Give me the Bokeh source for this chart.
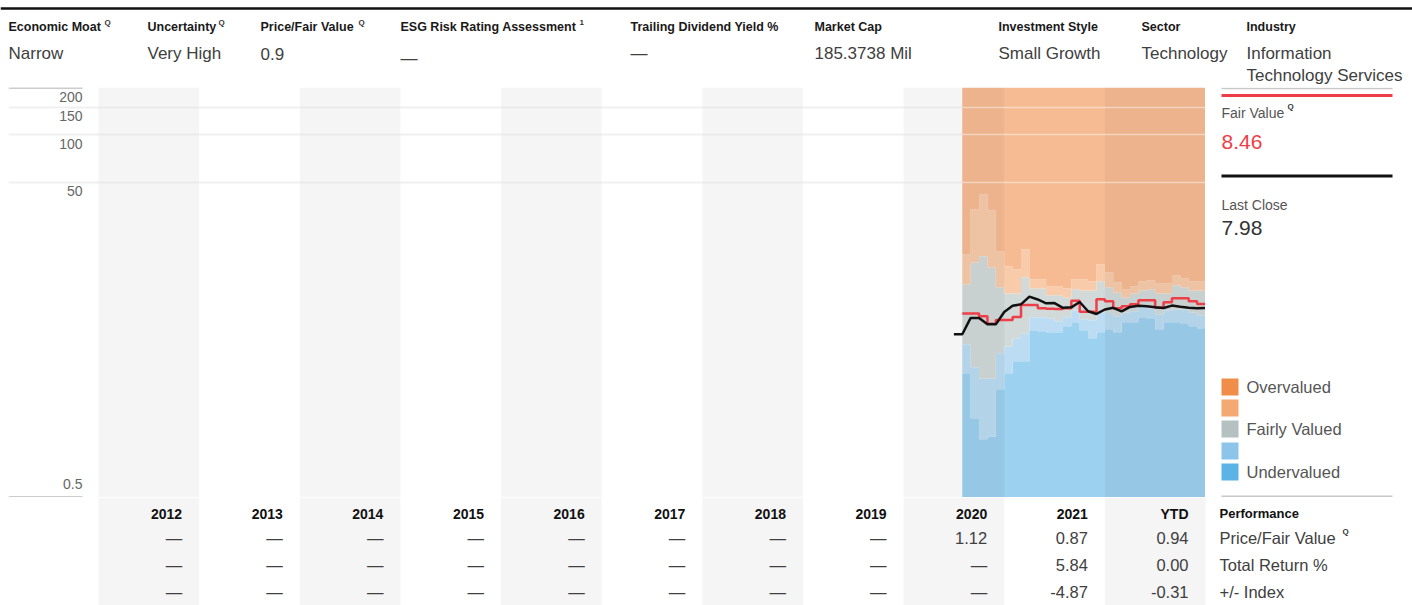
from bokeh.plotting import figure
from bokeh.layouts import column, row
from bokeh.models import Range1d, Grid, FixedTicker
from bokeh.core.properties import value
from bokeh.embed import file_html
from bokeh.resources import INLINE

FONT = value("Liberation Sans")

# ------------------------------------------------------------------ data
header_titles = ["Economic Moat", "Uncertainty", "Price/Fair Value",
                 "ESG Risk Rating Assessment", "Trailing Dividend Yield %",
                 "Market Cap", "Investment Style", "Sector", "Industry"]
header_values = ["Narrow", "Very High", "0.9", "\u2014", "\u2014", "185.3738 Mil",
                 "Small Growth", "Technology", "Information\nTechnology Services"]
header_marks = ["Q", "Q", "Q", "1", "", "", "", "", ""]

table_columns = ["2012", "2013", "2014", "2015", "2016", "2017", "2018",
                 "2019", "2020", "2021", "YTD"]
price_fair_value = [None, None, None, None, None, None, None, None, 1.12, 0.87, 0.94]
total_return = [None, None, None, None, None, None, None, None, None, 5.84, 0.00]
plus_minus_index = [None, None, None, None, None, None, None, None, None, -4.87, -0.31]
table_row_labels = ["Performance", "Price/Fair Value", "Total Return %", "+/- Index"]

y_ticks = [0.5, 50, 100, 150, 200]

val_months = ["2020-08", "2020-09", "2020-10", "2020-11", "2020-12",
              "2021-01", "2021-02", "2021-03", "2021-04", "2021-05", "2021-06",
              "2021-07", "2021-08", "2021-09", "2021-10", "2021-11", "2021-12",
              "2022-01", "2022-02", "2022-03", "2022-04", "2022-05", "2022-06",
              "2022-07", "2022-08", "2022-09", "2022-10", "2022-11", "2022-12"]
val_end = "2023-01"
undervalued_top = [3.07, 1.59, 1.17, 1.22, 2.43, 3.07, 3.66, 3.66, 5.76, 5.67,
                   5.59, 5.59, 6.10, 6.47, 5.76, 5.12, 5.59, 5.84, 5.59, 6.47,
                   6.47, 6.96, 6.86, 5.84, 6.47, 6.47, 6.37, 6.10, 5.93]
near_under_top = [4.69, 3.35, 2.85, 2.85, 4.11, 4.55, 5.12, 5.51, 6.96, 6.96,
                  6.86, 6.56, 6.96, 7.70, 6.76, 6.66, 7.50, 7.40, 7.06, 7.45,
                  7.60, 8.05, 7.93, 7.28, 7.70, 7.76, 7.76, 7.45, 7.16]
fair_top = [11.3, 15.5, 17.0, 14.4, 10.8, 9.87, 9.87, 12.5, 10.6, 10.6,
            9.6, 9.6, 9.3, 10.5, 10.3, 10.3, 11.8, 10.8, 10.0, 9.3,
            9.87, 10.3, 10.5, 9.87, 9.87, 11.1, 10.8, 10.3, 10.3]
near_over_top = [17.5, 33.7, 42.0, 33.2, 18.2, 14.7, 14.0, 18.8, 12.1, 12.1,
                 10.9, 10.9, 10.6, 12.1, 12.1, 11.8, 15.1, 13.4, 11.6, 10.5,
                 10.9, 11.8, 11.9, 11.4, 11.4, 12.85, 12.3, 11.8, 11.8]
fair_value = [7.36, 7.36, 7.06, 6.34, 6.70, 6.70, 7.00, 8.33, 8.33, 7.95,
              7.90, 7.85, 7.95, 8.88, 7.55, 7.55, 9.05, 8.79, 7.93, 8.17,
              8.41, 8.92, 8.92, 7.99, 8.66, 9.18, 9.18, 8.79, 8.46]
price_months = ["2020-07"] + val_months + ["2023-01"]
price = [5.43, 5.43, 6.90, 6.90, 6.28, 6.28, 7.52, 8.23, 8.41, 9.42,
         9.03, 8.54, 8.57, 7.99, 8.05, 8.70, 7.60, 7.31, 7.80, 8.00,
         7.58, 8.10, 8.23, 8.17, 8.05, 7.98, 8.26, 8.12, 8.00, 7.93, 7.98]

fair_value_now = 8.46
last_close = 7.98

legend_labels = ["Overvalued", "", "Fairly Valued", "", "Undervalued"]
legend_colors = ["#F08D49", "#F4A872", "#B4C1C0", "#8DC4EA", "#5BB3E6"]

# ------------------------------------------------------------------ layout geometry
W, H = 1412, 605
HEADER_H, CHART_H = 87, 410
TABLE_H = H - HEADER_H - CHART_H
CHART_W = 1205
PANEL_W = W - CHART_W
PPY = 100.636                 # pixels per year column
XP0 = 2012 - 98 / PPY         # year value at page x = 0
X0 = 2012 - 90 / PPY          # year value at the chart frame's left edge
X_END = 2012 + (CHART_W - 98) / PPY


def ym(s):
    y, m = s.split("-")
    return int(y) + (int(m) - 1) / 12


def blend(hex_color, alpha=0.6):
    r, g, b = (int(hex_color[i:i + 2], 16) for i in (1, 3, 5))
    return "#%02x%02x%02x" % tuple(round(255 - alpha * (255 - v)) for v in (r, g, b))


def fmt(v):
    return "\u2014" if v is None else f"{v:.2f}"


def base_fig(left=0, **kw):
    f = figure(toolbar_location=None, output_backend="svg",
               min_border_left=left, min_border_right=0, min_border_top=0,
               min_border_bottom=0, outline_line_color=None,
               background_fill_color="white", border_fill_color="white",
               x_axis_location=None, y_axis_location=None, **kw)
    f.grid.visible = False
    return f


# ------------------------------------------------------------------ header
h = base_fig(width=W, height=HEADER_H, x_range=Range1d(0, W),
             y_range=Range1d(HEADER_H, 0))
h.segment(x0=[0], y0=[8], x1=[W], y1=[8], line_color="#111111", line_width=2.5)
header_x = [8, 147, 260, 400, 630, 814, 998, 1141, 1246]
mark_x = [104, 218, 358, 579, 0, 0, 0, 0, 0]
value_dy = [0, 0, 0, 5, 0, 0, 0, 0, 0]
h.text(x=header_x, y=[26] * len(header_x), text=header_titles, text_font=FONT,
       text_font_size="12.5px", text_font_style="bold", text_color="#1a1a1a",
       text_baseline="middle")
mk = [(x, t) for x, t in zip(mark_x, header_marks) if t]
h.text(x=[m[0] for m in mk], y=[22] * len(mk), text=[m[1] for m in mk], text_font=FONT,
       text_font_size="8px", text_font_style="bold", text_color="#333333",
       text_baseline="middle")
vx, vy, vt = [], [], []
for x, v, dy in zip(header_x, header_values, value_dy):
    for i, line in enumerate(v.split("\n")):
        vx.append(x)
        vy.append(53 + dy + 22 * i)
        vt.append(line)
h.text(x=vx, y=vy, text=vt, text_font=FONT, text_font_size="17px",
       text_color="#404040", text_baseline="middle")

# ------------------------------------------------------------------ chart
c = base_fig(left=8, width=CHART_W, height=CHART_H, x_range=Range1d(X0, X_END),
             y_range=Range1d(y_ticks[0], y_ticks[-1]), y_axis_type="log")
grid_ticks = [t for t in y_ticks if y_ticks[0] < t < y_ticks[-1]]
c.add_layout(Grid(dimension=1, ticker=FixedTicker(ticks=grid_ticks),
                  grid_line_color="#e2e2e2", grid_line_width=1.5, level="underlay"))

n = len(val_months)
xs = [ym(m) for m in val_months] + [ym(val_end)]
bounds = [[y_ticks[0]] * n, undervalued_top, near_under_top, fair_top,
          near_over_top, [y_ticks[-1]] * n]
fills = [blend(col) for col in legend_colors[::-1]]
for lo, hi, col in zip(bounds[:-1], bounds[1:], fills):
    c.varea_step(x=xs, y1=list(lo) + [lo[-1]], y2=list(hi) + [hi[-1]],
                 step_mode="after", fill_color=col)

band_starts = [2012 + i for i in range(0, len(table_columns), 2)]
c.quad(left=band_starts, right=[b + 1 for b in band_starts],
       bottom=y_ticks[0], top=y_ticks[-1], fill_color="black", fill_alpha=0.04,
       line_color=None)
c.add_layout(Grid(dimension=1, ticker=FixedTicker(ticks=grid_ticks),
                  grid_line_color="white", grid_line_alpha=0.45,
                  grid_line_width=1.5, level="overlay"))

lab_end = X0 + 74 / PPY
c.segment(x0=[X0, X0], x1=[lab_end, lab_end], y0=[y_ticks[-1], y_ticks[0]],
          y1=[y_ticks[-1], y_ticks[0]], line_color="#cccccc", line_width=3)
upper = y_ticks[1:]
c.text(x=[X0] * len(upper), y=upper, text=[f"{t:g}" for t in upper], x_offset=74,
       y_offset=4, text_align="right", text_baseline="top", text_font=FONT,
       text_font_size="14px", text_color="#666666")
c.text(x=[X0], y=[y_ticks[0]], text=[f"{y_ticks[0]:g}"], x_offset=74, y_offset=-9,
       text_align="right", text_baseline="bottom", text_font=FONT,
       text_font_size="14px", text_color="#666666")

c.step(x=xs, y=fair_value + [fair_value[-1]], mode="after", line_color="#EE3E47",
       line_width=2.5)
c.line(x=[ym(m) for m in price_months], y=price, line_color="#111111", line_width=2.5)

# ------------------------------------------------------------------ right panel
pn = base_fig(width=PANEL_W, height=CHART_H, x_range=Range1d(CHART_W, W),
              y_range=Range1d(HEADER_H + CHART_H, HEADER_H))
pn.segment(x0=[1221] * 4, x1=[1392] * 4, y0=[88, 95, 175.5, 496],
           y1=[88, 95, 175.5, 496],
           line_color=["#c8c8c8", "#EE3E47", "#111111", "#c8c8c8"],
           line_width=[1.5, 3, 3, 2])
pn.text(x=[1221, 1221], y=[112, 204], text=["Fair Value", "Last Close"],
        text_font=FONT, text_font_size="14px", text_color="#555555",
        text_baseline="middle")
pn.text(x=[1287], y=[106], text=["Q"], text_font=FONT, text_font_size="8px",
        text_font_style="bold", text_color="#333333", text_baseline="middle")
pn.text(x=[1221], y=[141], text=[f"{fair_value_now:.2f}"], text_font=FONT,
        text_font_size="21px", text_color="#EE3E47", text_baseline="middle")
pn.text(x=[1221], y=[227], text=[f"{last_close:.2f}"], text_font=FONT,
        text_font_size="21px", text_color="#333333", text_baseline="middle")
sw_top = [378, 399, 420, 442, 463]
pn.quad(left=1221, right=1238, top=sw_top, bottom=[t + 17 for t in sw_top],
        fill_color=legend_colors, line_color=None)
lg = [(t + 8.5, lab) for t, lab in zip(sw_top, legend_labels) if lab]
pn.text(x=[1246] * len(lg), y=[g[0] for g in lg], text=[g[1] for g in lg],
        text_font=FONT, text_font_size="16.5px", text_color="#555555",
        text_baseline="middle")

# ------------------------------------------------------------------ table
T0 = HEADER_H + CHART_H
t = base_fig(width=W, height=TABLE_H, x_range=Range1d(XP0, XP0 + W / PPY),
             y_range=Range1d(H, T0))
t.quad(left=band_starts, right=[b + 1 for b in band_starts], top=T0,
       bottom=H, fill_color="#f5f5f5", line_color=None)
col_end = [2013 + i for i in range(len(table_columns))]
row_y = [513, 537, 564, 591]
t.text(x=col_end, y=[row_y[0]] * len(col_end), text=table_columns, x_offset=-17,
       text_align="right", text_baseline="middle", text_font=FONT,
       text_font_size="14px", text_font_style="bold", text_color="#111111")
for ry, vals in zip(row_y[1:], [price_fair_value, total_return, plus_minus_index]):
    t.text(x=col_end, y=[ry] * len(col_end), text=[fmt(v) for v in vals],
           x_offset=-17, text_align="right", text_baseline="middle", text_font=FONT,
           text_font_size="16.5px", text_color="#404040")
t.text(x=[X_END], y=[row_y[0]], text=[table_row_labels[0]], x_offset=14,
       text_baseline="middle", text_font=FONT, text_font_size="13px",
       text_font_style="bold", text_color="#111111")
t.text(x=[X_END] * 3, y=row_y[1:], text=table_row_labels[1:], x_offset=14,
       text_baseline="middle", text_font=FONT, text_font_size="16.5px",
       text_color="#404040")
t.text(x=[X_END], y=[531], text=["Q"], x_offset=137, text_baseline="middle",
       text_font=FONT, text_font_size="8px", text_font_style="bold",
       text_color="#333333")

layout = column(h, row(c, pn), t)
open("out.html", "w").write(file_html(layout, INLINE))
